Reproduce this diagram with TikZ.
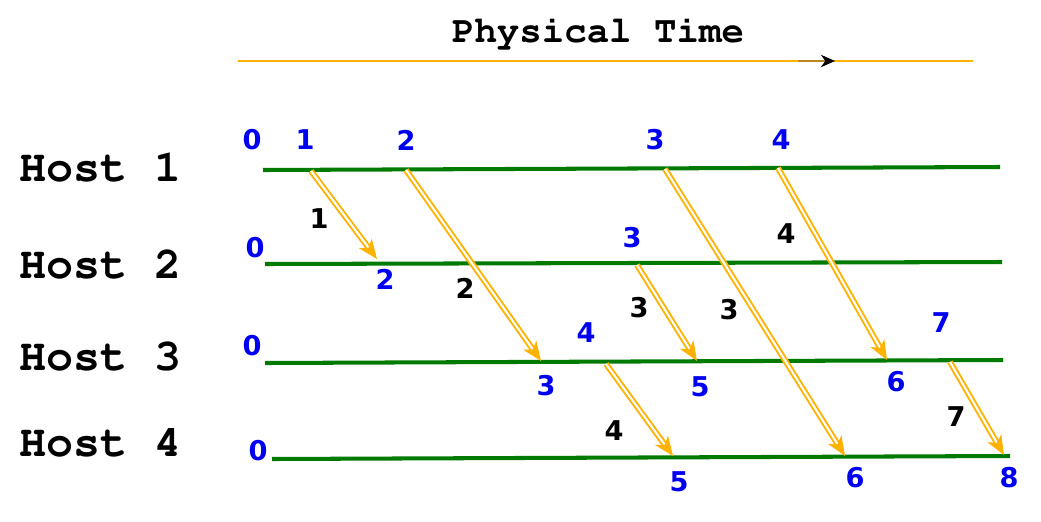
\documentclass[tikz,border=0pt]{standalone}
\usepackage[T1]{fontenc}
\usepackage{fontspec}
\newfontfamily\numfont{DejaVu Sans}
\newcommand\courierbf{\fontencoding{T1}\fontfamily{pcr}\fontseries{b}\selectfont}
\usetikzlibrary{arrows.meta}
\definecolor{msgorange}{RGB}{255,178,0}
\definecolor{hostgreen}{RGB}{0,122,0}
\definecolor{clockblue}{RGB}{0,0,240}
\definecolor{darkamber}{RGB}{185,135,30}
\tikzset{
  timelabel/.style={font=\fontsize{21.3}{24}\courierbf,inner sep=0pt},
  timeline/.style={draw=msgorange,line width=1.1pt},
  timearrow/.style={draw=darkamber,line width=1.3pt,-{Stealth[length=8pt,width=7pt,inset=2.5pt,black]}},
  hostlabel/.style={font=\fontsize{25.6}{28}\courierbf,anchor=west,inner sep=0pt},
  hostline/.style={draw=hostgreen,line width=2.3pt},
  clock/.style={font=\fontsize{15.5}{17}\selectfont\numfont\bfseries,text=clockblue,inner sep=0pt},
  msglabel/.style={clock,text=black},
  msg/.style={draw=msgorange,double=white,double distance=1.2pt,line width=1.1pt,
    -{Stealth[length=11pt,width=9pt,inset=3pt,fill=msgorange]}}
}
\begin{document}
\begin{tikzpicture}[x=0.02cm,y=-0.02cm]
  \useasboundingbox (0,0) rectangle (1041,521);
  \node[timelabel] (ptime) at (598,33) {Physical Time};
  \coordinate (tl) at (238,61);
  \coordinate (tr) at (973,61);
  \coordinate (tm) at (798,61);
  \coordinate (tt) at (835,61);
  \draw[timeline] (tl) -- (tr);
  \draw[timearrow] (tm) -- (tt);

  \node[hostlabel] (host1) at (19,168) {Host 1};
  \node[hostlabel] (host2) at (19,265) {Host 2};
  \node[hostlabel] (host3) at (19,357) {Host 3};
  \node[hostlabel] (host4) at (19,443) {Host 4};
  \coordinate (h1a) at (263,170); \coordinate (h1b) at (1000,167);
  \coordinate (h2a) at (265,264); \coordinate (h2b) at (1002,262);
  \coordinate (h3a) at (265,363); \coordinate (h3b) at (1003,360);
  \coordinate (h4a) at (272,459); \coordinate (h4b) at (1010,456);
  \draw[hostline] (h1a) -- (h1b);
  \draw[hostline] (h2a) -- (h2b);
  \draw[hostline] (h3a) -- (h3b);
  \draw[hostline] (h4a) -- (h4b);

  \node[clock] (c10) at (252,140) {0};
  \node[clock] (c11) at (305,140) {1};
  \node[clock] (c12) at (406,140) {2};
  \node[clock] (c13) at (655,140) {3};
  \node[clock] (c14) at (781,140) {4};
  \node[clock] (c20) at (255,248) {0};
  \node[clock] (c22) at (385,279) {2};
  \node[clock] (c23) at (632,238) {3};
  \node[clock] (c30) at (252,346) {0};
  \node[clock] (c33) at (546,386) {3};
  \node[clock] (c34) at (586,333) {4};
  \node[clock] (c35) at (700,387) {5};
  \node[clock] (c36) at (896,382) {6};
  \node[clock] (c37) at (941,323) {7};
  \node[clock] (c40) at (258,451) {0};
  \node[clock] (c45) at (679,482) {5};
  \node[clock] (c46) at (855,478) {6};
  \node[clock] (c48) at (1009,478) {8};

  \coordinate (s1) at (311,171); \coordinate (r1) at (377,259);
  \coordinate (s2) at (406,170); \coordinate (r2) at (541,361);
  \coordinate (s3) at (637,265); \coordinate (r3) at (697,361);
  \coordinate (s4) at (665,169); \coordinate (r4) at (845,456);
  \coordinate (s5) at (778,168); \coordinate (r5) at (887,360);
  \coordinate (s6) at (606,364); \coordinate (r6) at (673,456);
  \coordinate (s7) at (950,362); \coordinate (r7) at (1004,455);
  \draw[msg] (s1) -- (r1);
  \draw[msg] (s2) -- (r2);
  \draw[msg] (s3) -- (r3);
  \draw[msg] (s4) -- (r4);
  \draw[msg] (s5) -- (r5);
  \draw[msg] (s6) -- (r6);
  \draw[msg] (s7) -- (r7);

  \node[msglabel] (m1) at (319,219) {1};
  \node[msglabel] (m2) at (465,288) {2};
  \node[msglabel] (m3) at (639,308) {3};
  \node[msglabel] (m4) at (729,310) {3};
  \node[msglabel] (m5) at (786,234) {4};
  \node[msglabel] (m6) at (614,431) {4};
  \node[msglabel] (m7) at (956,417) {7};
\end{tikzpicture}
\end{document}
